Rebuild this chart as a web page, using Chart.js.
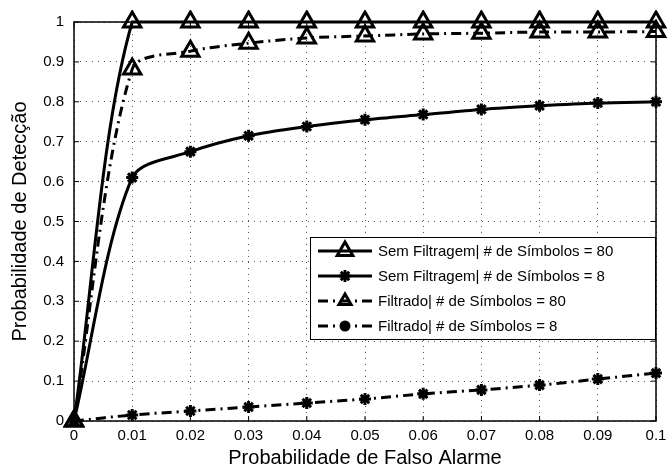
<!DOCTYPE html>
<html>
<head>
<meta charset="utf-8">
<script src="https://cdn.jsdelivr.net/npm/chart.js@4/dist/chart.umd.min.js"></script>
<style>
  html, body { margin: 0; padding: 0; background: #fff; }
  #wrap { width: 669px; height: 470px; }
</style>
</head>
<body>
<div id="wrap"><canvas id="c"></canvas></div>
<script>
// probabilidade de falso alarme
const pfa = [0, 0.01, 0.02, 0.03, 0.04, 0.05, 0.06, 0.07, 0.08, 0.09, 0.1];

const semFiltragem80 = [0, 1, 1, 1, 1, 1, 1, 1, 1, 1, 1];
const semFiltragem8 = [0, 0.61, 0.675, 0.715, 0.738, 0.755, 0.768, 0.781, 0.79, 0.797, 0.8];
const filtrado80 = [0, 0.882, 0.927, 0.947, 0.96, 0.965, 0.97, 0.972, 0.975, 0.975, 0.976];
const filtrado8 = [0, 0.015, 0.025, 0.035, 0.045, 0.055, 0.068, 0.078, 0.09, 0.105, 0.12];

const seriesLabels = [
  'Sem Filtragem| # de Símbolos = 80',
  'Sem Filtragem| # de Símbolos = 8',
  'Filtrado| # de Símbolos = 80',
  'Filtrado| # de Símbolos = 8'
];

const xTicks = [0, 0.01, 0.02, 0.03, 0.04, 0.05, 0.06, 0.07, 0.08, 0.09, 0.1];
const xTickLabels = ['0', '0.01', '0.02', '0.03', '0.04', '0.05', '0.06', '0.07', '0.08', '0.09', '0.1'];
const yTicks = [0, 0.1, 0.2, 0.3, 0.4, 0.5, 0.6, 0.7, 0.8, 0.9, 1];
const yTickLabels = ['0', '0.1', '0.2', '0.3', '0.4', '0.5', '0.6', '0.7', '0.8', '0.9', '1'];

const FONT = '"Liberation Sans", Arial, sans-serif';
const dashDot = [10, 5, 2, 5];

const toPoints = (ys) => ys.map((y, i) => ({ x: pfa[i], y: y }));

const makeSet = (label, ys, dash, style, radius, legendStyle, legendRadius) => ({
  label: label,
  data: toPoints(ys),
  borderColor: '#000',
  backgroundColor: 'rgba(0,0,0,0)',
  borderWidth: 3,
  borderDash: dash,
  pointStyle: style,
  pointRadius: radius,
  pointBorderWidth: 3,
  pointBorderColor: '#000',
  pointBackgroundColor: 'rgba(0,0,0,0)',
  tension: 0.3,
  clip: 12,
  legendStyle: legendStyle,
  legendRadius: legendRadius
});

// plot box + inward tick marks
const boxPlugin = {
  id: 'box',
  beforeDatasetsDraw(chart) {
    const { ctx, chartArea: a, scales } = chart;
    ctx.save();
    ctx.strokeStyle = '#000';
    ctx.lineWidth = 1.5;
    ctx.strokeRect(a.left, a.top, a.right - a.left, a.bottom - a.top);
    ctx.lineWidth = 1;
    ctx.beginPath();
    xTicks.forEach(v => {
      const px = scales.x.getPixelForValue(v);
      ctx.moveTo(px, a.bottom); ctx.lineTo(px, a.bottom - 5);
      ctx.moveTo(px, a.top); ctx.lineTo(px, a.top + 5);
    });
    yTicks.forEach(v => {
      const py = scales.y.getPixelForValue(v);
      ctx.moveTo(a.left, py); ctx.lineTo(a.left + 5, py);
      ctx.moveTo(a.right, py); ctx.lineTo(a.right - 5, py);
    });
    ctx.stroke();
    ctx.restore();
  }
};

// legend inside the plot, lower right
const legendPlugin = {
  id: 'insideLegend',
  afterDraw(chart) {
    const { ctx, chartArea: a } = chart;
    const w = 346, h = 103;
    const x0 = a.right - w, y0 = 237;
    ctx.save();
    ctx.fillStyle = '#fff';
    ctx.fillRect(x0, y0, w, h);
    ctx.strokeStyle = '#000';
    ctx.lineWidth = 1;
    ctx.strokeRect(x0 + 0.5, y0 + 0.5, w - 1, h - 1);
    chart.data.datasets.forEach((ds, i) => {
      const cy = y0 + 14 + i * 25;
      ctx.strokeStyle = '#000';
      ctx.lineWidth = 3;
      ctx.setLineDash(ds.borderDash || []);
      ctx.beginPath();
      ctx.moveTo(x0 + 8, cy);
      ctx.lineTo(x0 + 62, cy);
      ctx.stroke();
      ctx.setLineDash([]);
      ctx.fillStyle = ds.legendStyle === 'circle' ? '#000' : 'rgba(0,0,0,0)';
      Chart.helpers.drawPoint(ctx, {
        pointStyle: ds.legendStyle,
        radius: ds.legendRadius,
        rotation: 0,
        borderWidth: 3
      }, x0 + 35, cy);
      ctx.fillStyle = '#000';
      ctx.font = '15px ' + FONT;
      ctx.textAlign = 'left';
      ctx.textBaseline = 'middle';
      ctx.fillText(ds.label, x0 + 68, cy + 1);
    });
    ctx.restore();
  }
};

new Chart(document.getElementById('c'), {
  type: 'line',
  data: {
    datasets: [
      makeSet(seriesLabels[0], semFiltragem80, [], 'triangle', 10, 'triangle', 9),
      makeSet(seriesLabels[1], semFiltragem8, [], 'star', 6, 'star', 6),
      makeSet(seriesLabels[2], filtrado80, dashDot, 'triangle', 10, 'triangle', 7),
      makeSet(seriesLabels[3], filtrado8, dashDot, 'star', 6, 'circle', 4)
    ]
  },
  options: {
    responsive: true,
    maintainAspectRatio: false,
    animation: false,
    layout: { padding: { top: 22, right: 8, left: 0, bottom: 0 } },
    plugins: {
      legend: { display: false },
      tooltip: { enabled: false }
    },
    scales: {
      x: {
        type: 'linear',
        min: 0,
        max: 0.1,
        afterBuildTicks: (scale) => { scale.ticks = xTicks.map(v => ({ value: v })); },
        afterFit: (scale) => { scale.height = 49; scale.paddingLeft = 0; scale.paddingRight = 0; },
        ticks: {
          color: '#000',
          font: { family: FONT, size: 15 },
          padding: 6,
          maxRotation: 0,
          autoSkip: false,
          callback: (v, i) => xTickLabels[i]
        },
        grid: { color: '#555', lineWidth: 1, drawTicks: false },
        border: { display: false, dash: [1, 5] },
        title: {
          display: true,
          text: 'Probabilidade de Falso Alarme',
          color: '#000',
          font: { family: FONT, size: 20 },
          padding: { top: 0, bottom: 0 }
        }
      },
      y: {
        type: 'linear',
        min: 0,
        max: 1,
        afterBuildTicks: (scale) => { scale.ticks = yTicks.map(v => ({ value: v })); },
        afterFit: (scale) => { scale.width = 74; scale.paddingTop = 0; scale.paddingBottom = 0; },
        ticks: {
          color: '#000',
          font: { family: FONT, size: 15 },
          padding: 10,
          autoSkip: false,
          callback: (v, i) => yTickLabels[i]
        },
        grid: { color: '#555', lineWidth: 1, drawTicks: false },
        border: { display: false, dash: [1, 5] },
        title: {
          display: true,
          text: 'Probabilidade de Detecção',
          color: '#000',
          font: { family: FONT, size: 20 },
          padding: { top: 8, bottom: 0 }
        }
      }
    }
  },
  plugins: [boxPlugin, legendPlugin]
});
</script>
</body>
</html>
